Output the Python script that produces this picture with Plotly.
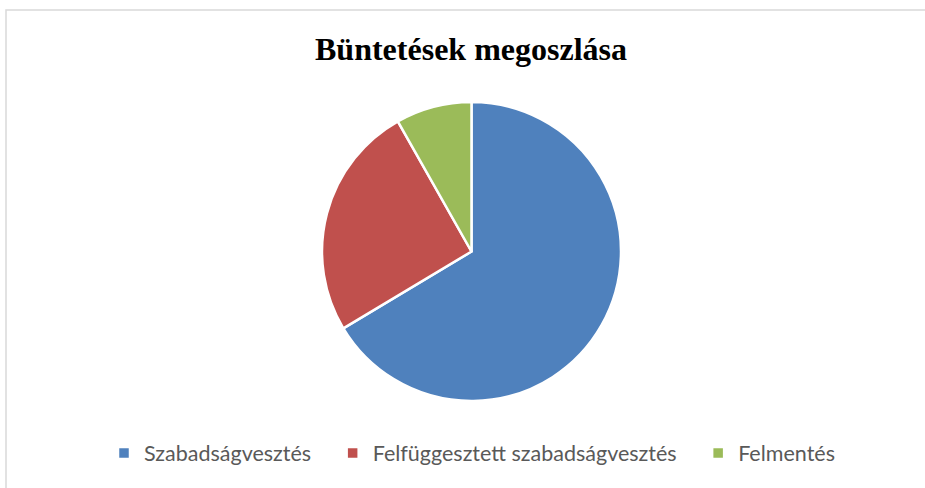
import plotly.graph_objects as go

categories = ["Szabadságvesztés", "Felfüggesztett szabadságvesztés", "Felmentés"]
values = [66.4, 25.4, 8.2]
colors = ["#4f81bd", "#c0504d", "#9bbb59"]
title_text = "Büntetések megoszlása"

W, H = 925, 488
cx, cy, r = 471.5, 251.5, 149.5

# extra trailing spacing between legend entries (as in the reference)
pad = "\u00a0" * 3
legend_labels = [c + pad if i < len(categories) - 1 else c for i, c in enumerate(categories)]

fig = go.Figure(go.Pie(
    labels=legend_labels,
    values=values,
    sort=False,
    direction="clockwise",
    rotation=0,
    marker=dict(colors=colors, line=dict(color="white", width=2.5)),
    textinfo="none",
    hoverinfo="label+percent",
    domain=dict(x=[(cx - r) / W, (cx + r) / W], y=[(H - cy - r) / H, (H - cy + r) / H]),
))

fig.update_layout(
    width=W, height=H,
    margin=dict(l=0, r=0, t=0, b=0),
    paper_bgcolor="white",
    title=dict(text="<b>" + title_text + "</b>", x=471 / W, xanchor="center",
               y=1 - 49 / H, yanchor="middle",
               font=dict(family="Liberation Serif", size=32, color="#000000")),
    showlegend=True,
    legend=dict(orientation="h", x=472 / W, xanchor="center", y=1 - 453 / H, yanchor="middle",
                font=dict(family="Lato", size=21.5, color="#595959"),
                itemwidth=30, tracegroupgap=0),
    shapes=[dict(type="rect", xref="paper", yref="paper",
                 x0=6 / W, x1=1.02, y0=-0.02, y1=1 - 10 / H,
                 line=dict(color="#d9d9d9", width=1.5), layer="below")],
)

fig.write_html("out.html", config={"displayModeBar": False},
               post_script="document.body.style.margin='0';")
